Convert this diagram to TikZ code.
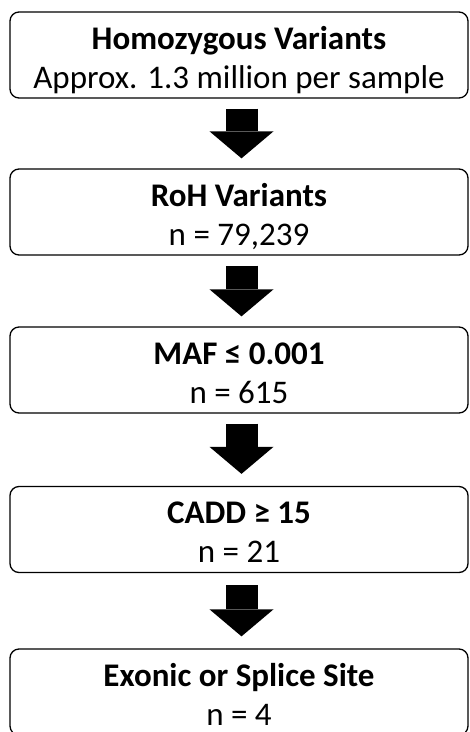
\documentclass[tikz,border=0pt]{standalone}
\usepackage{fontspec}
\setmainfont{Carlito}
\usetikzlibrary{arrows.meta}

\newcommand{\stagefont}{\fontsize{33}{39}\selectfont\lineskiplimit=-100pt\relax}

\tikzset{
  stagebox/.style={draw, line width=1.3pt, rounded corners=9pt,
    minimum width=458pt, minimum height=86pt, inner sep=0pt,
    align=center, text height=74pt, text depth=8pt,
    font={\stagefont}},
  flowarrow/.style={line width=32pt,
    -{Triangle[length=27pt,width=64pt,line width=0pt]}}
}

\begin{document}
\begin{tikzpicture}[x=1pt,y=-1pt]
  \useasboundingbox (0,0) rectangle (470,732);

  % Filter stages
  \node[stagebox] (hom) at (239,55)
    {\textbf{Homozygous Variants}\\Approx. 1.3 million per sample};
  \node[stagebox] (roh) at (239,212) {\textbf{RoH Variants}\\n = 79,239};
  \node[stagebox] (maf) at (239,370) {\textbf{MAF ≤ 0.001}\\n = 615};
  \node[stagebox] (cadd) at (239,529.5) {\textbf{CADD ≥ 15}\\n = 21};
  \node[stagebox] (exon) at (239,692) {\textbf{Exonic or Splice Site}\\n = 4};

  % Arrows
  \draw[flowarrow] ([xshift=2.5pt,yshift=-10pt]hom.south) -- ([xshift=2.5pt,yshift=10pt]roh.north);
  \draw[flowarrow] ([xshift=2.5pt,yshift=-10pt]roh.south) -- ([xshift=2.5pt,yshift=10pt]maf.north);
  \draw[flowarrow] ([xshift=2.5pt,yshift=-10pt]maf.south) -- ([xshift=2.5pt,yshift=12pt]cadd.north);
  \draw[flowarrow] ([xshift=2.5pt,yshift=-12pt]cadd.south) -- ([xshift=2.5pt,yshift=12pt]exon.north);
\end{tikzpicture}
\end{document}
